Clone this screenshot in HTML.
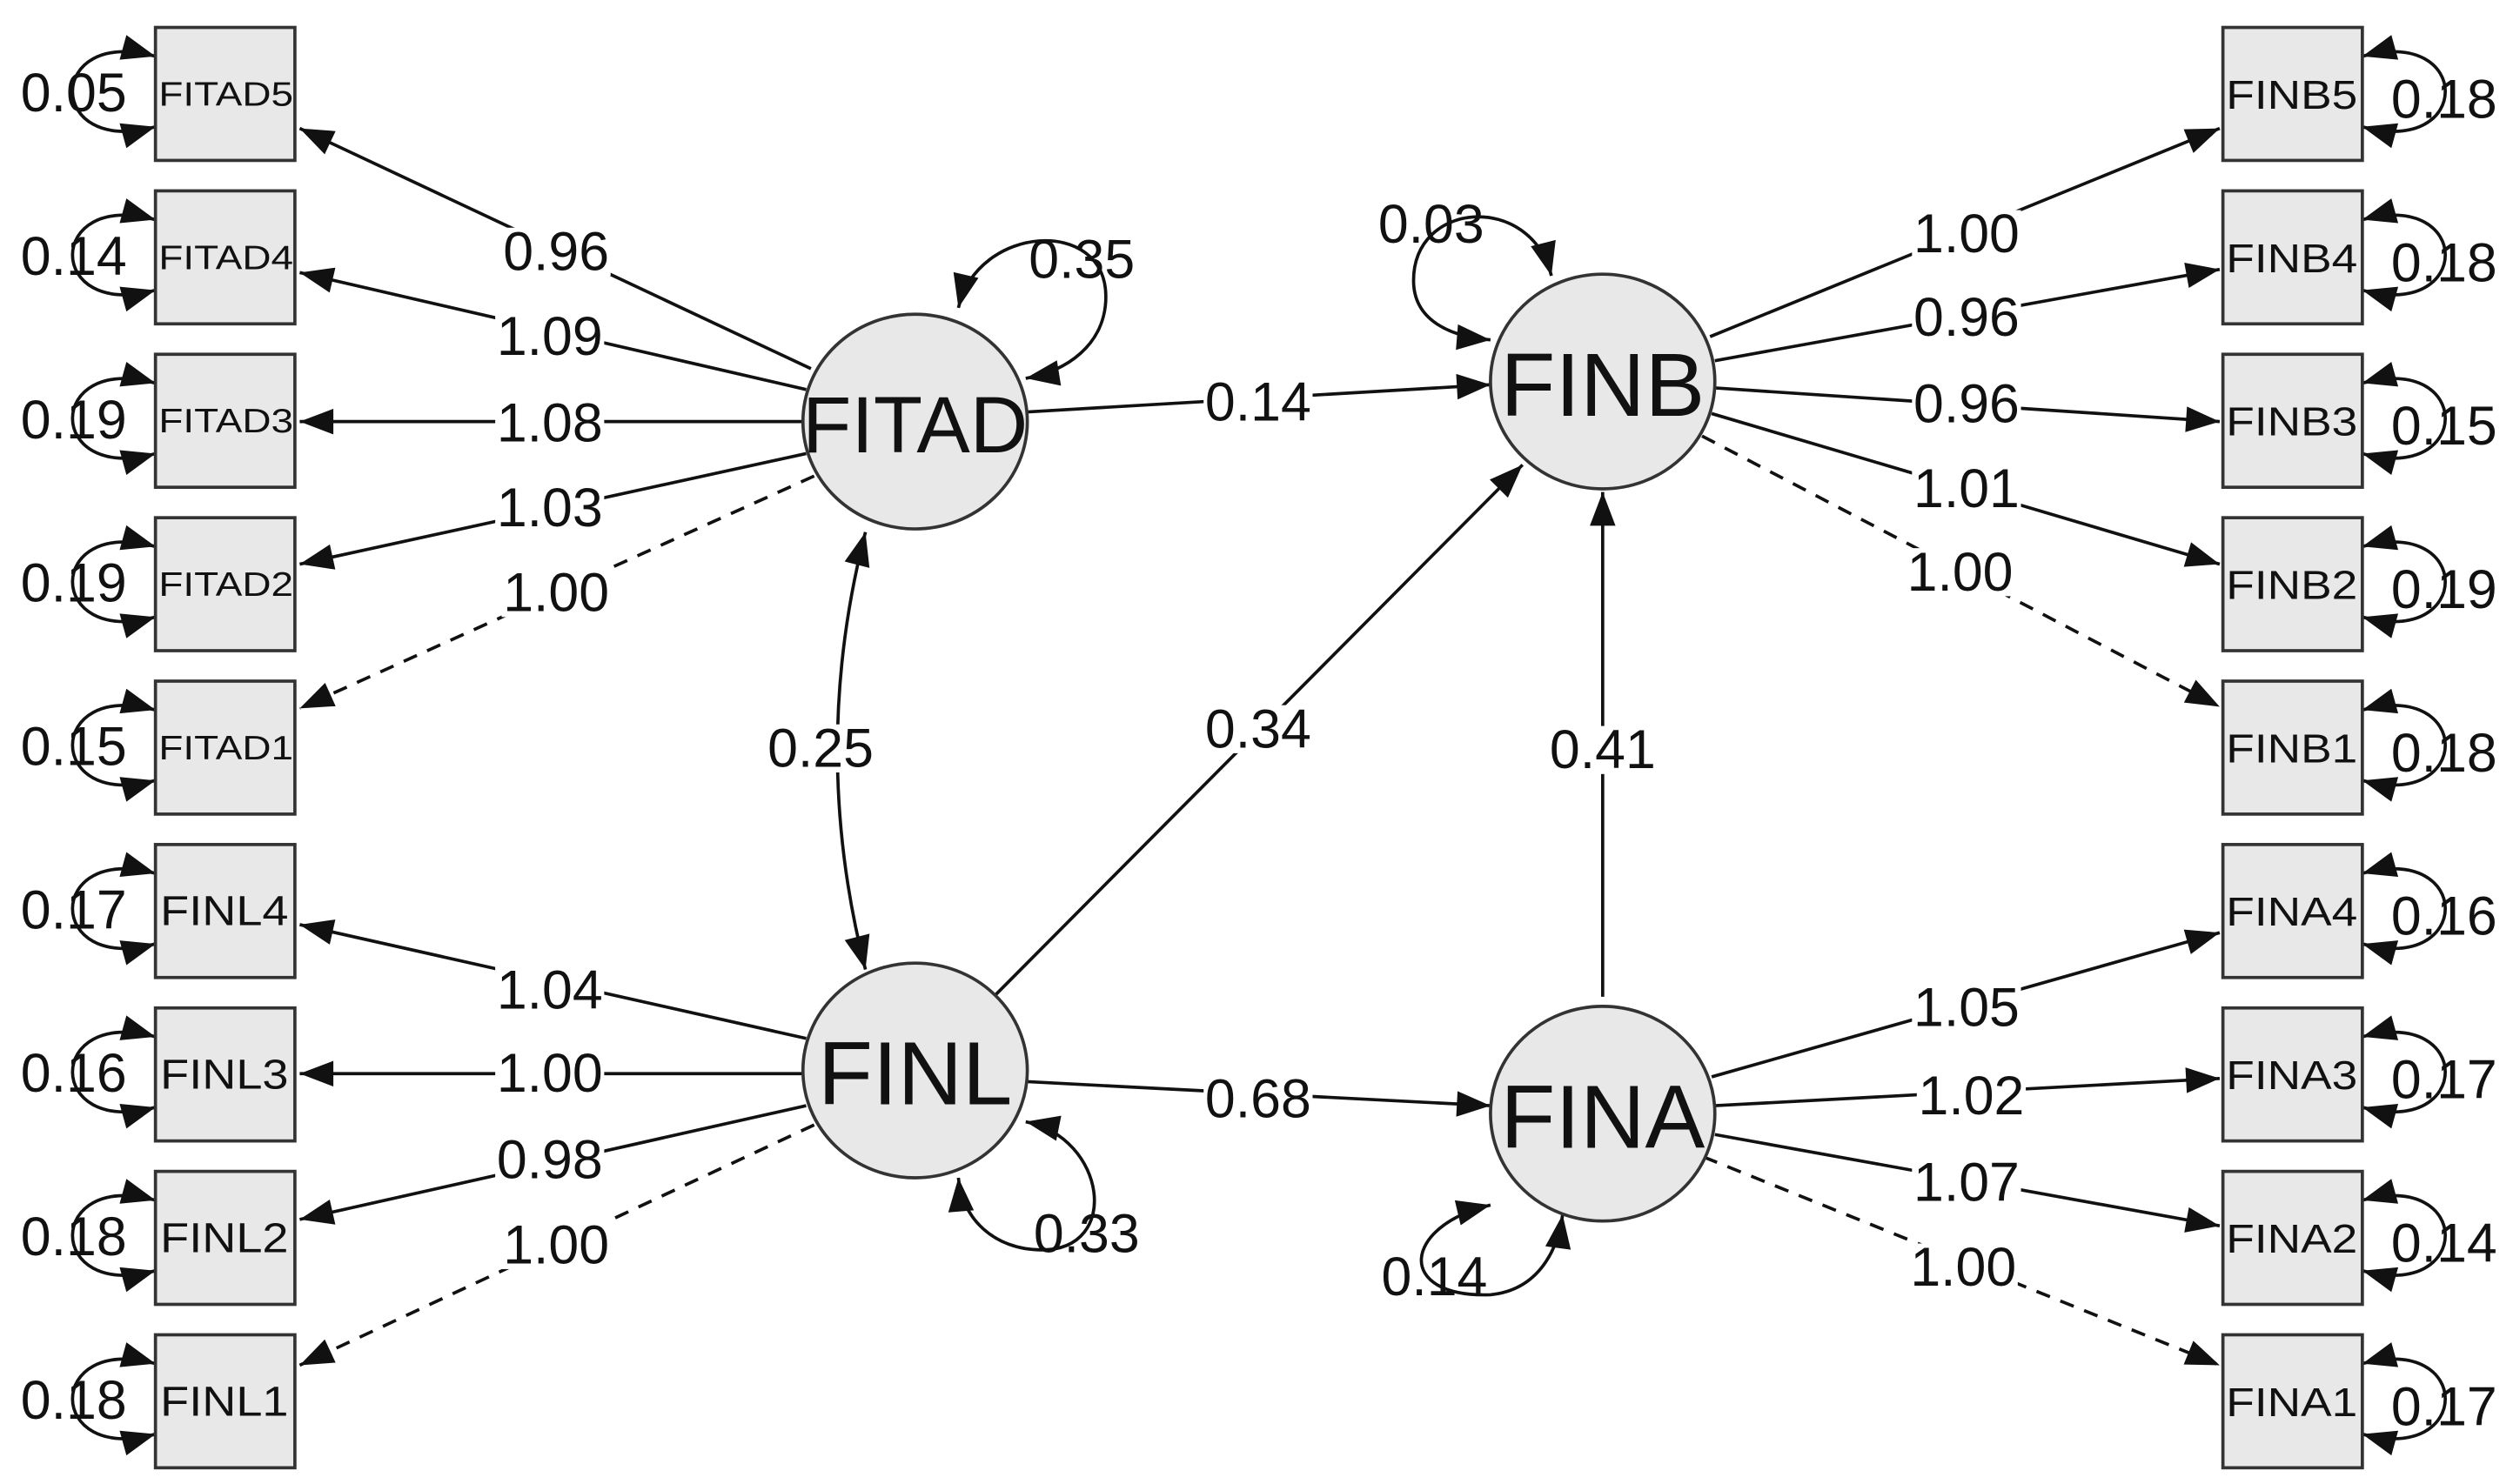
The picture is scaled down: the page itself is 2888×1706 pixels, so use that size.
<!DOCTYPE html>
<html><head><meta charset="utf-8"><style>
html,body{margin:0;padding:0;background:#fff}
svg{display:block}
text{font-family:"Liberation Sans",Arial,sans-serif;fill:#111}
.b{fill:#e8e8e8;stroke:#333;stroke-width:2}
.it{font-size:21px;text-anchor:middle;dominant-baseline:central}
.n{font-size:34px;text-anchor:middle;dominant-baseline:central}
.lb{font-size:34px;text-anchor:middle;dominant-baseline:central}
.bg{fill:#fff}
.lat{font-size:56px;text-anchor:middle;dominant-baseline:central}
.e{fill:none;stroke:#111;stroke-width:2;marker-end:url(#a)}
.d{stroke-dasharray:9 7}
.r{fill:none;stroke:#111;stroke-width:2;marker-end:url(#a);marker-start:url(#as)}
</style></head><body>
<svg width="2888" height="1706" viewBox="0 0 1568 926" xmlns="http://www.w3.org/2000/svg">
<defs>
<marker id="a" markerUnits="userSpaceOnUse" markerWidth="40" markerHeight="40" refX="0" refY="0" orient="auto" style="overflow:visible"><path d="M-21,-8 L0,0 L-21,8 z" fill="#111"/></marker>
<marker id="as" markerUnits="userSpaceOnUse" markerWidth="40" markerHeight="40" refX="0" refY="0" orient="auto-start-reverse" style="overflow:visible"><path d="M-21,-8 L0,0 L-21,8 z" fill="#111"/></marker>
</defs>

<g>
<path class="r" d="M97 35 C28 16,28 98,97 79"/>
<path class="r" d="M97 137 C28 118,28 200,97 181"/>
<path class="r" d="M97 239 C28 220,28 302,97 283"/>
<path class="r" d="M97 341 C28 322,28 404,97 385"/>
<path class="r" d="M97 443 C28 424,28 506,97 487"/>
<path class="r" d="M97 545 C28 526,28 608,97 589"/>
<path class="r" d="M97 647 C28 628,28 710,97 691"/>
<path class="r" d="M97 749 C28 730,28 812,97 793"/>
<path class="r" d="M97 851 C28 832,28 914,97 895"/>
</g>
<g>
<path class="r" d="M1474 35 C1543 16,1543 98,1474 79"/>
<path class="r" d="M1474 137 C1543 118,1543 200,1474 181"/>
<path class="r" d="M1474 239 C1543 220,1543 302,1474 283"/>
<path class="r" d="M1474 341 C1543 322,1543 404,1474 385"/>
<path class="r" d="M1474 443 C1543 424,1543 506,1474 487"/>
<path class="r" d="M1474 545 C1543 526,1543 608,1474 589"/>
<path class="r" d="M1474 647 C1543 628,1543 710,1474 691"/>
<path class="r" d="M1474 749 C1543 730,1543 812,1474 793"/>
<path class="r" d="M1474 851 C1543 832,1543 914,1474 895"/>
</g>

<rect class="b" x="97" y="17" width="87" height="83"/>
<rect class="b" x="97" y="119" width="87" height="83"/>
<rect class="b" x="97" y="221" width="87" height="83"/>
<rect class="b" x="97" y="323" width="87" height="83"/>
<rect class="b" x="97" y="425" width="87" height="83"/>
<rect class="b" x="97" y="527" width="87" height="83"/>
<rect class="b" x="97" y="629" width="87" height="83"/>
<rect class="b" x="97" y="731" width="87" height="83"/>
<rect class="b" x="97" y="833" width="87" height="83"/>
<rect class="b" x="1387" y="17" width="87" height="83"/>
<rect class="b" x="1387" y="119" width="87" height="83"/>
<rect class="b" x="1387" y="221" width="87" height="83"/>
<rect class="b" x="1387" y="323" width="87" height="83"/>
<rect class="b" x="1387" y="425" width="87" height="83"/>
<rect class="b" x="1387" y="527" width="87" height="83"/>
<rect class="b" x="1387" y="629" width="87" height="83"/>
<rect class="b" x="1387" y="731" width="87" height="83"/>
<rect class="b" x="1387" y="833" width="87" height="83"/>

<text class="it" x="141" y="59" textLength="84" lengthAdjust="spacingAndGlyphs">FITAD5</text>
<text class="it" x="141" y="161" textLength="84" lengthAdjust="spacingAndGlyphs">FITAD4</text>
<text class="it" x="141" y="263" textLength="84" lengthAdjust="spacingAndGlyphs">FITAD3</text>
<text class="it" x="141" y="365" textLength="84" lengthAdjust="spacingAndGlyphs">FITAD2</text>
<text class="it" x="141" y="467" textLength="84" lengthAdjust="spacingAndGlyphs">FITAD1</text>
<text class="it" x="140" y="569" style="font-size:26px" textLength="80" lengthAdjust="spacingAndGlyphs">FINL4</text>
<text class="it" x="140" y="671" style="font-size:26px" textLength="80" lengthAdjust="spacingAndGlyphs">FINL3</text>
<text class="it" x="140" y="773" style="font-size:26px" textLength="80" lengthAdjust="spacingAndGlyphs">FINL2</text>
<text class="it" x="140" y="875" style="font-size:26px" textLength="80" lengthAdjust="spacingAndGlyphs">FINL1</text>
<text class="it" x="1430" y="59" style="font-size:25px" textLength="82" lengthAdjust="spacingAndGlyphs">FINB5</text>
<text class="it" x="1430" y="161" style="font-size:25px" textLength="82" lengthAdjust="spacingAndGlyphs">FINB4</text>
<text class="it" x="1430" y="263" style="font-size:25px" textLength="82" lengthAdjust="spacingAndGlyphs">FINB3</text>
<text class="it" x="1430" y="365" style="font-size:25px" textLength="82" lengthAdjust="spacingAndGlyphs">FINB2</text>
<text class="it" x="1430" y="467" style="font-size:25px" textLength="82" lengthAdjust="spacingAndGlyphs">FINB1</text>
<text class="it" x="1430" y="569" style="font-size:25px" textLength="82" lengthAdjust="spacingAndGlyphs">FINA4</text>
<text class="it" x="1430" y="671" style="font-size:25px" textLength="82" lengthAdjust="spacingAndGlyphs">FINA3</text>
<text class="it" x="1430" y="773" style="font-size:25px" textLength="82" lengthAdjust="spacingAndGlyphs">FINA2</text>
<text class="it" x="1430" y="875" style="font-size:25px" textLength="82" lengthAdjust="spacingAndGlyphs">FINA1</text>

<text class="n" x="46" y="58">0.05</text>
<text class="n" x="46" y="160">0.14</text>
<text class="n" x="46" y="262">0.19</text>
<text class="n" x="46" y="364">0.19</text>
<text class="n" x="46" y="466">0.15</text>
<text class="n" x="46" y="568">0.17</text>
<text class="n" x="46" y="670">0.16</text>
<text class="n" x="46" y="772">0.18</text>
<text class="n" x="46" y="874">0.18</text>
<text class="n" x="1525" y="62">0.18</text>
<text class="n" x="1525" y="164">0.18</text>
<text class="n" x="1525" y="266">0.15</text>
<text class="n" x="1525" y="368">0.19</text>
<text class="n" x="1525" y="470">0.18</text>
<text class="n" x="1525" y="572">0.16</text>
<text class="n" x="1525" y="674">0.17</text>
<text class="n" x="1525" y="776">0.14</text>
<text class="n" x="1525" y="878">0.17</text>

<path class="e" d="M506 230 L187 80"/>
<path class="e" d="M503 243 L187 170"/>
<path class="e" d="M502 263 L187 263"/>
<path class="e" d="M503 283 L187 352"/>
<path class="e d" d="M508 297 L187 442"/>
<path class="e" d="M503 648 L187 577"/>
<path class="e" d="M502 670 L187 670"/>
<path class="e" d="M503 690 L187 761"/>
<path class="e d" d="M508 702 L187 852"/>
<path class="e" d="M1067 210 L1385 80"/>
<path class="e" d="M1070 225 L1385 168"/>
<path class="e" d="M1070 242 L1385 263"/>
<path class="e" d="M1068 258 L1385 352"/>
<path class="e d" d="M1062 272 L1385 441"/>
<path class="e" d="M1068 672 L1385 582"/>
<path class="e" d="M1070 690 L1385 673"/>
<path class="e" d="M1070 708 L1385 765"/>
<path class="e d" d="M1063 722 L1385 852"/>

<path class="e" d="M641 257 L930 240"/>
<path class="e" d="M620 622 L950 290"/>
<path class="e" d="M641 675 L930 690"/>
<path class="e" d="M1000 622 L1000 307"/>
<path class="r" d="M540 332 Q505 468 540 605"/>

<path class="r" d="M598 192 C610 140,690 135,690 185 C690 215,665 232,640 236"/>
<path class="r" d="M968 172 C955 120,882 125,882 175 C882 200,905 210,930 212"/>
<path class="r" d="M640 700 C690 710,700 780,650 780 C620 780,600 760,598 735"/>
<path class="r" d="M930 752 C875 765,870 810,930 808 C960 805,972 780,975 758"/>

<ellipse class="b" cx="571" cy="263" rx="70" ry="67"/>
<ellipse class="b" cx="1000" cy="238" rx="70" ry="67"/>
<ellipse class="b" cx="571" cy="668" rx="70" ry="67"/>
<ellipse class="b" cx="1000" cy="695" rx="70" ry="67"/>
<text class="lat" x="571" y="265" style="font-size:50px">FITAD</text>
<text class="lat" x="1000" y="240">FINB</text>
<text class="lat" x="571" y="670">FINL</text>
<text class="lat" x="1000" y="697">FINA</text>

<g class="bg">
<rect x="313" y="142" width="68" height="30"/>
<rect x="309" y="195" width="68" height="30"/>
<rect x="309" y="249" width="68" height="30"/>
<rect x="309" y="302" width="68" height="30"/>
<rect x="313" y="355" width="68" height="30"/>
<rect x="309" y="603" width="68" height="30"/>
<rect x="309" y="655" width="68" height="30"/>
<rect x="309" y="709" width="68" height="30"/>
<rect x="313" y="762" width="68" height="30"/>
<rect x="1193" y="131" width="68" height="30"/>
<rect x="1193" y="183" width="68" height="30"/>
<rect x="1193" y="237" width="68" height="30"/>
<rect x="1193" y="290" width="68" height="30"/>
<rect x="1189" y="342" width="68" height="30"/>
<rect x="1193" y="614" width="68" height="30"/>
<rect x="1196" y="669" width="68" height="30"/>
<rect x="1193" y="723" width="68" height="30"/>
<rect x="1191" y="776" width="68" height="30"/>
<rect x="751" y="236" width="68" height="30"/>
<rect x="751" y="440" width="68" height="30"/>
<rect x="751" y="671" width="68" height="30"/>
<rect x="966" y="453" width="68" height="30"/>
<rect x="478" y="452" width="68" height="30"/>
</g>
<text class="lb" x="347" y="157">0.96</text>
<text class="lb" x="343" y="210">1.09</text>
<text class="lb" x="343" y="264">1.08</text>
<text class="lb" x="343" y="317">1.03</text>
<text class="lb" x="347" y="370">1.00</text>
<text class="lb" x="343" y="618">1.04</text>
<text class="lb" x="343" y="670">1.00</text>
<text class="lb" x="343" y="724">0.98</text>
<text class="lb" x="347" y="777">1.00</text>
<text class="lb" x="1227" y="146">1.00</text>
<text class="lb" x="1227" y="198">0.96</text>
<text class="lb" x="1227" y="252">0.96</text>
<text class="lb" x="1227" y="305">1.01</text>
<text class="lb" x="1223" y="357">1.00</text>
<text class="lb" x="1227" y="629">1.05</text>
<text class="lb" x="1230" y="684">1.02</text>
<text class="lb" x="1227" y="738">1.07</text>
<text class="lb" x="1225" y="791">1.00</text>
<text class="lb" x="785" y="251">0.14</text>
<text class="lb" x="785" y="455">0.34</text>
<text class="lb" x="785" y="686">0.68</text>
<text class="lb" x="1000" y="468">0.41</text>
<text class="lb" x="512" y="467">0.25</text>
<text class="n" x="675" y="162">0.35</text>
<text class="n" x="893" y="140">0.03</text>
<text class="n" x="678" y="770">0.33</text>
<text class="n" x="895" y="797">0.14</text>
</svg>
</body></html>
